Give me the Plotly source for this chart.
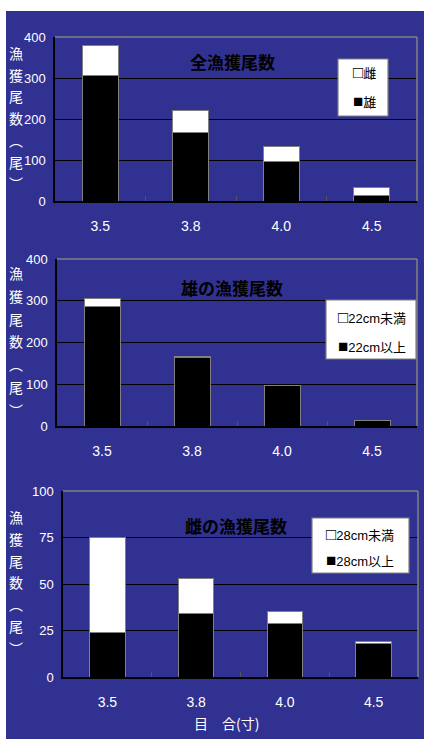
import plotly.graph_objects as go

W, H = 424, 739

# Catch counts by mesh size (寸)
mesh_sizes = ["3.5", "3.8", "4.0", "4.5"]
male_over22 = [286, 163, 97, 14]
male_under22 = [19, 4, 0, 0]
female_over28 = [24, 34, 29, 18]
female_under28 = [51, 19, 6, 1]
male_total = [a + b for a, b in zip(male_over22, male_under22)]
female_total = [a + b for a, b in zip(female_over28, female_under28)]

panel_titles = ["全漁獲尾数", "雄の漁獲尾数", "雌の漁獲尾数"]
legend_labels = [("雌", "雄"), ("22cm未満", "22cm以上"), ("28cm未満", "28cm以上")]
legend_marks = ("□", "■")
y_tick_values = [[0, 100, 200, 300, 400], [0, 100, 200, 300, 400], [0, 25, 50, 75, 100]]
y_title_chars = ["漁", "獲", "尾", "数", "︵", "尾", "︶"]
x_title = "目　合(寸)"

BLUE = "#313192"
YELLOW = "#FDE710"
GRAY = "#808080"
CJK = "Noto Sans CJK JP"
NUM = "Liberation Sans, Noto Sans CJK JP"

# stacked series per panel: (bottom black, top white)
panels = [
    (male_total, female_total),
    (male_over22, male_under22),
    (female_over28, female_under28),
]

# plot-area boxes in pixels: x0, x1, y0(top), y1(bottom)
boxes = [(55, 417, 37, 201), (57, 417, 259, 426), (63, 418, 491, 677)]
title_pos = [(232, 62), (232.5, 288), (236, 525)]
legend_boxes = [(338, 59, 388, 116), (326, 300, 416, 359), (312, 518, 409, 573)]
legend_text = [(351, 73, 101), (336, 317, 346), (324, 534, 560)]
ytitle_pos = [(53, 21.7), (273, 22.8), (517, 21.8)]


def px(x):
    return x / W


def py(y):
    return 1 - y / H


def label(x, y, text, font, xanchor="center"):
    return dict(xref="paper", yref="paper", x=px(x), y=py(y), text=text,
                xanchor=xanchor, yanchor="middle", showarrow=False, font=font)


fig = go.Figure()
shapes = [
    dict(type="rect", xref="paper", yref="paper", x0=px(6), x1=1, y0=0, y1=py(11),
         fillcolor=BLUE, line=dict(width=0), layer="below")
]
annotations = []

for i, (bottom, top) in enumerate(panels):
    n = "" if i == 0 else str(i + 1)
    xa, ya = "x" + n, "y" + n
    fig.add_trace(go.Bar(x=mesh_sizes, y=bottom, xaxis=xa, yaxis=ya, showlegend=False,
                         marker=dict(color="#000000", line=dict(color=GRAY, width=1))))
    fig.add_trace(go.Bar(x=mesh_sizes, y=top, xaxis=xa, yaxis=ya, showlegend=False,
                         marker=dict(color="#FFFFFF", line=dict(color=GRAY, width=1))))

    x0, x1, y0, y1 = boxes[i]
    yt = y_tick_values[i]
    fig.update_layout({
        "xaxis" + n: dict(domain=[px(x0), px(x1)], anchor=ya, type="category",
                          automargin=False,
                          showline=True, linecolor="#000000", linewidth=1.5,
                          ticks="inside", tickson="boundaries", ticklen=5,
                          tickcolor="#555555", showgrid=False,
                          tickfont=dict(family=NUM, size=14, color="white"),
                          ticklabelstandoff=11, fixedrange=True),
        "yaxis" + n: dict(domain=[py(y1), py(y0)], anchor=xa, range=[0, yt[-1]],
                          automargin=False,
                          tickvals=yt, showline=True, linecolor="#000000", linewidth=1.5,
                          showgrid=True, gridcolor="#000000", gridwidth=1,
                          zeroline=False, ticks="",
                          tickfont=dict(family=NUM, size=13, color="white"),
                          ticklabelstandoff=5, fixedrange=True),
    })

    # gray frame on top and right edges of the plot area
    dref = dict(xref=xa + " domain", yref=ya + " domain")
    shapes.append(dict(type="line", x0=0, x1=1, y0=1, y1=1, line=dict(color=GRAY, width=1.5), **dref))
    shapes.append(dict(type="line", x0=1, x1=1, y0=0, y1=1, line=dict(color=GRAY, width=1.5), **dref))

    # panel title
    tx, ty = title_pos[i]
    annotations.append(label(tx, ty, "<b>" + panel_titles[i] + "</b>",
                             dict(family=CJK, size=17, color="black")))

    # legend box with square marks drawn as glyphs
    lx0, ly0, lx1, ly1 = legend_boxes[i]
    shapes.append(dict(type="rect", xref="paper", yref="paper", x0=px(lx0), x1=px(lx1),
                       y0=py(ly1), y1=py(ly0), fillcolor="white", line=dict(color=GRAY, width=1.2)))
    tx0, ty_a, ty_b = legend_text[i]
    for mark, text, yy in zip(legend_marks, legend_labels[i], (ty_a, ty_b)):
        rich = "<span style='font-size:17px'>" + mark + "</span>" + text
        annotations.append(label(tx0, yy, rich, dict(family=NUM, size=13, color="black"), "left"))

    # vertical axis title
    y_first, step = ytitle_pos[i]
    for k, ch in enumerate(y_title_chars):
        annotations.append(label(16, y_first + k * step, ch, dict(family=CJK, size=14, color="white")))

annotations.append(label(226, 723, x_title, dict(family=CJK, size=14, color="white")))

fig.update_layout(
    template="none",
    width=W, height=H, margin=dict(l=0, r=0, t=0, b=0, autoexpand=False),
    paper_bgcolor="white", plot_bgcolor=YELLOW,
    barmode="stack", bargap=0.6,
    shapes=shapes, annotations=annotations,
)

fig.write_html("out.html", config={"displayModeBar": False})
